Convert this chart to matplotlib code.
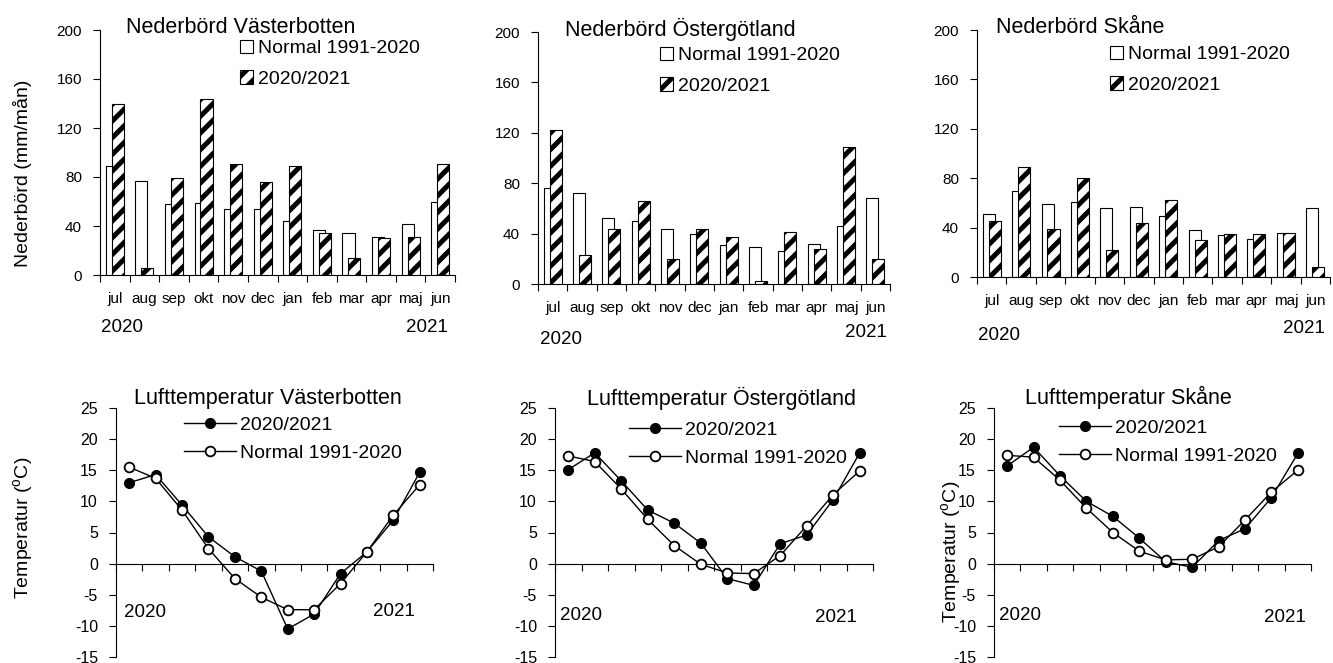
import numpy as np
import matplotlib.pyplot as plt

plt.rcParams['font.family'] = ['Liberation Sans', 'DejaVu Sans']
plt.rcParams['mathtext.default'] = 'regular'
plt.rcParams['axes.unicode_minus'] = False
plt.rcParams['hatch.linewidth'] = 3.6

months = ['jul', 'aug', 'sep', 'okt', 'nov', 'dec', 'jan', 'feb', 'mar', 'apr', 'maj', 'jun']

# Nederbörd (mm/mån)
prec_norm_vb = [89, 77, 58, 59, 54, 54, 44, 37, 34, 31, 42, 60]
prec_year_vb = [140, 6, 79, 144, 91, 76, 89, 34, 14, 30, 31, 91]
prec_norm_og = [76, 72, 52, 50, 44, 40, 31, 29, 26, 32, 46, 68]
prec_year_og = [122, 23, 44, 66, 20, 44, 37, 2, 41, 28, 109, 20]
prec_norm_sk = [51, 70, 59, 61, 56, 57, 49, 38, 34, 31, 36, 56]
prec_year_sk = [45, 89, 39, 80, 22, 44, 62, 30, 35, 35, 36, 8]

# Lufttemperatur (oC)
temp_year_vb = [13.0, 14.3, 9.4, 4.3, 1.1, -1.2, -10.5, -8.1, -1.6, 1.9, 7.0, 14.7]
temp_norm_vb = [15.5, 13.7, 8.6, 2.4, -2.4, -5.4, -7.4, -7.4, -3.2, 1.9, 7.8, 12.7]
temp_year_og = [15.1, 17.8, 13.3, 8.6, 6.5, 3.3, -2.4, -3.5, 3.2, 4.6, 10.3, 17.8]
temp_norm_og = [17.3, 16.4, 12.0, 7.1, 2.9, -0.1, -1.5, -1.6, 1.3, 6.1, 11.1, 14.9]
temp_year_sk = [15.7, 18.7, 14.1, 10.0, 7.6, 4.1, 0.3, -0.6, 3.7, 5.6, 10.6, 17.7]
temp_norm_sk = [17.4, 17.1, 13.4, 8.9, 5.0, 2.0, 0.6, 0.7, 2.7, 7.0, 11.5, 15.0]

W, H = 1333, 663
fig = plt.figure(figsize=(W / 100, H / 100), dpi=100)


def add_ax(l, t, r, b):
    return fig.add_axes([l / W, 1 - b / H, (r - l) / W, (b - t) / H])


def ftext(x, y, s, **kw):
    kw.setdefault('va', 'baseline')
    fig.text(x / W, 1 - y / H, s, **kw)


def bar_panel(box, normal, year, title, title_xy, leg_xy, pad, years):
    ax = add_ax(*box)
    x = np.arange(len(months))
    ax.bar(x - 0.1, normal, 0.41, color='white', edgecolor='black', lw=0.8,
           label='Normal 1991-2020', zorder=2)
    ax.bar(x + 0.1, year, 0.41, color='white', edgecolor='black', lw=0.8,
           hatch='//', label='2020/2021', zorder=3)
    ax.set_xlim(-0.5, 11.5)
    ax.set_ylim(0, 200)
    ax.set_yticks(range(0, 201, 40))
    ax.set_xticks(np.arange(-0.5, 12, 1))
    ax.set_xticklabels([])
    ax.set_xticks(x, minor=True)
    ax.set_xticklabels(months, minor=True)
    ax.tick_params(axis='x', which='minor', length=0, pad=pad, labelsize=11)
    ax.tick_params(axis='x', which='major', length=5, width=0.8)
    ax.tick_params(axis='y', length=5, width=0.8, pad=8, labelsize=11)
    for s in ('top', 'right'):
        ax.spines[s].set_visible(False)
    for s in ('left', 'bottom'):
        ax.spines[s].set_linewidth(0.8)
    ftext(*title_xy, title, fontsize=15.5, ha='left')
    ax.legend(loc='upper left', bbox_to_anchor=(leg_xy[0] / W, 1 - leg_xy[1] / H),
              bbox_transform=fig.transFigure, frameon=False, fontsize=14,
              handlelength=0.68, handleheight=0.68, handletextpad=0.25,
              labelspacing=0.66, borderpad=0, borderaxespad=0)
    (x0, y0), (x1, y1) = years
    ftext(x0, y0, '2020', fontsize=13.5, ha='left')
    ftext(x1, y1, '2021', fontsize=13.5, ha='right')
    return ax


def temp_panel(box, year, normal, title, title_xy, leg_xy, years):
    ax = add_ax(*box)
    x = np.arange(len(months)) + 0.5
    ax.plot(x, year, '-o', color='black', lw=1, ms=7, mfc='black', mec='black',
            label='2020/2021', zorder=3)
    ax.plot(x, normal, '-o', color='black', lw=1, ms=7, mfc='white', mec='black',
            mew=1.3, label='Normal 1991-2020', zorder=4)
    ax.set_xlim(0, 12)
    ax.set_ylim(-15, 25)
    ax.spines['bottom'].set_position(('data', 0))
    for s in ('top', 'right'):
        ax.spines[s].set_visible(False)
    for s in ('left', 'bottom'):
        ax.spines[s].set_linewidth(0.8)
    ax.set_xticks(range(13))
    ax.set_xticklabels([])
    ax.set_yticks(range(-15, 26, 5))
    ax.tick_params(axis='x', length=5, width=0.8)
    ax.tick_params(axis='y', length=5, width=0.8, pad=8, labelsize=11.5)
    ftext(*title_xy, title, fontsize=15.5, ha='left')
    ax.legend(loc='upper left', bbox_to_anchor=(leg_xy[0] / W, 1 - leg_xy[1] / H),
              bbox_transform=fig.transFigure, frameon=False, fontsize=14,
              handlelength=2.67, handletextpad=0.2, labelspacing=0.54,
              borderpad=0, borderaxespad=0)
    (x0, y0), (x1, y1) = years
    ftext(x0, y0, '2020', fontsize=13.5, ha='left')
    ftext(x1, y1, '2021', fontsize=13.5, ha='right')
    return ax


bar_panel((100, 30, 455, 275), prec_norm_vb, prec_year_vb, 'Nederbörd Västerbotten',
          (126, 33), (240, 40), 12, ((101, 332), (448, 332)))
bar_panel((538, 32, 890, 284), prec_norm_og, prec_year_og, 'Nederbörd Östergötland',
          (565, 36), (660, 47), 12, ((540, 344), (887, 337)))
bar_panel((977, 30, 1330, 277), prec_norm_sk, prec_year_sk, 'Nederbörd Skåne',
          (996, 33), (1110, 46), 12, ((978, 340), (1325, 333)))

temp_panel((116, 408, 433, 657), temp_year_vb, temp_norm_vb, 'Lufttemperatur Västerbotten',
           (134, 404), (184, 416), ((124, 617), (415, 616)))
temp_panel((555, 408, 873, 657), temp_year_og, temp_norm_og, 'Lufttemperatur Östergötland',
           (587, 405), (629, 421), ((560, 620), (857, 622)))
temp_panel((994, 408, 1311, 657), temp_year_sk, temp_norm_sk, 'Lufttemperatur Skåne',
           (1025, 404), (1059, 419), ((999, 620), (1306, 622)))

ftext(23, 173, 'Nederbörd (mm/mån)', rotation=90, ha='center', va='center', fontsize=14)
ftext(23, 528, 'Temperatur ($^{o}$C)', rotation=90, ha='center', va='center', fontsize=14)
ftext(951, 552, 'Temperatur ($^{o}$C)', rotation=90, ha='center', va='center', fontsize=14)

fig.savefig('out.png', dpi=100)
